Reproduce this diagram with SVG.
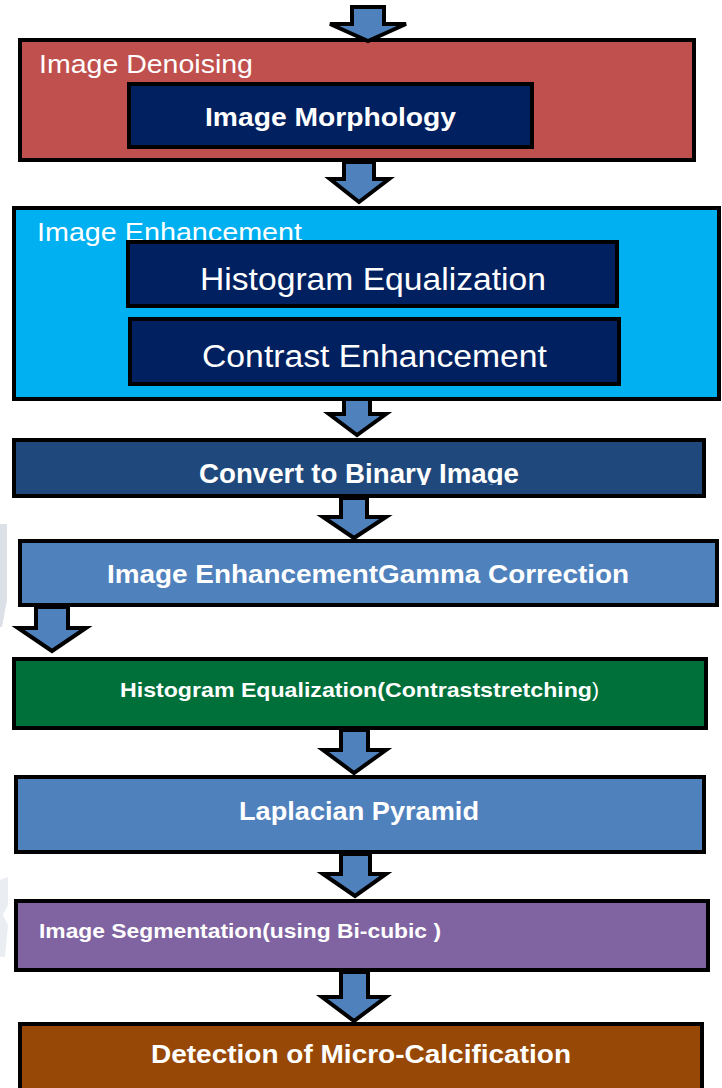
<svg xmlns="http://www.w3.org/2000/svg" width="722" height="1088" viewBox="0 0 722 1088">
<style>
.box{stroke:#000;stroke-width:4}
.arrow{fill:#4F81BD;stroke:#000;stroke-width:4;stroke-linejoin:miter}
.t{font-family:"Liberation Sans",Arial,sans-serif;fill:#fff}
.b{font-weight:bold}
</style>
<defs>
<clipPath id="clipBin"><rect x="0" y="430" width="722" height="55"/></clipPath>
</defs>
<rect width="722" height="1088" fill="#fff"/>
<g id="watermark" fill="#DCE1E8">
<polygon points="0,524 7,524 7,600 2,627 0,627"/>
<polygon points="0,880 8,877 8,905 3,915 8,925 5,957 0,957" opacity="0.6"/>
</g>
<g id="n1">
<rect class="box" x="20" y="40" width="674" height="120" fill="#C0504D"/>
<text class="t" x="39" y="73" font-size="25" textLength="214" lengthAdjust="spacingAndGlyphs">Image Denoising</text>
</g>
<g id="n1a">
<rect class="box" x="129" y="84" width="403" height="63" fill="#002060"/>
<text class="t b" x="205" y="126" font-size="25" textLength="251" lengthAdjust="spacingAndGlyphs">Image Morphology</text>
</g>
<g id="n2">
<rect class="box" x="14" y="208" width="705" height="191" fill="#00B0F0"/>
<text class="t" x="37" y="241" font-size="25" textLength="265" lengthAdjust="spacingAndGlyphs">Image Enhancement</text>
</g>
<g id="n2a">
<rect class="box" x="128" y="242" width="489" height="64" fill="#002060"/>
<text class="t" x="200" y="290" font-size="31" textLength="346" lengthAdjust="spacingAndGlyphs">Histogram Equalization</text>
</g>
<g id="n2b">
<rect class="box" x="130" y="319" width="489" height="65" fill="#002060"/>
<text class="t" x="202" y="367" font-size="31" textLength="345" lengthAdjust="spacingAndGlyphs">Contrast Enhancement</text>
</g>
<g id="n3">
<rect class="box" x="14" y="440" width="690" height="56" fill="#1F497D"/>
<text class="t b" x="199" y="483" font-size="28" textLength="320" lengthAdjust="spacingAndGlyphs" clip-path="url(#clipBin)">Convert to Binary Image</text>
</g>
<g id="n4">
<rect class="box" x="20" y="541" width="697" height="64" fill="#4F81BD"/>
<text class="t b" x="107" y="583" font-size="25" textLength="522" lengthAdjust="spacingAndGlyphs">Image EnhancementGamma Correction</text>
</g>
<g id="n5">
<rect class="box" x="14" y="659" width="692" height="69" fill="#00703A"/>
<text class="t b" x="120" y="697" font-size="21" textLength="472" lengthAdjust="spacingAndGlyphs">Histogram Equalization(Contraststretching</text>
<text class="t" x="592" y="697" font-size="21">)</text>
</g>
<g id="n6">
<rect class="box" x="16" y="777" width="688" height="75" fill="#4F81BD"/>
<text class="t b" x="239" y="820" font-size="25" textLength="240" lengthAdjust="spacingAndGlyphs">Laplacian Pyramid</text>
</g>
<g id="n7">
<rect class="box" x="16" y="901" width="692" height="69" fill="#8064A2"/>
<text class="t b" x="39" y="938" font-size="21" textLength="402" lengthAdjust="spacingAndGlyphs">Image Segmentation(using Bi-cubic )</text>
</g>
<g id="n8">
<rect class="box" x="20" y="1024" width="682" height="80" fill="#974806"/>
<text class="t b" x="151" y="1063" font-size="26" textLength="420" lengthAdjust="spacingAndGlyphs">Detection of Micro-Calcification</text>
</g>
<g id="connectors">
<path class="arrow" d="M352,7 H384 V24 H406 L368,41 L330,24 H352 Z"/>
<path class="arrow" d="M344,162 H374 V179 H389 L359,202 L330,179 H344 Z"/>
<path class="arrow" d="M344,399 H370 V414 H386 L357,435 L329,414 H344 Z"/>
<path class="arrow" d="M341,498 H367 V517 H386 L354,538 L323,517 H341 Z"/>
<path class="arrow" d="M36,607 H68 V628 H86 L52,651 L18,628 H36 Z"/>
<path class="arrow" d="M341,730 H368 V750 H386 L354,773 L323,750 H341 Z"/>
<path class="arrow" d="M341,854 H370 V874 H386 L355,896 L323,874 H341 Z"/>
<path class="arrow" d="M341,972 H368 V997 H386 L354,1021 L322,997 H341 Z"/>
</g>
</svg>
